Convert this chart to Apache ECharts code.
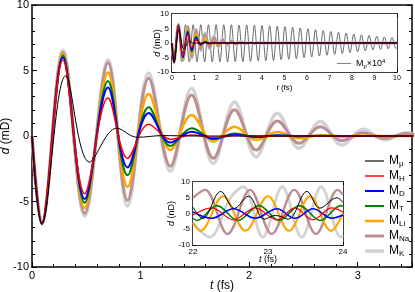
<!DOCTYPE html>
<html><head><meta charset="utf-8">
<script src="https://cdn.jsdelivr.net/npm/echarts@6/dist/echarts.min.js"></script>
<style>html,body{margin:0;padding:0;background:#fff}#c{width:415px;height:292px}</style>
</head><body><div id="c"></div>
<script>
// ---- main plot / top inset data (extrema) ----
const tExt = [0,0.09,0.285,0.485,0.70,0.88,1.075,1.275,1.47,1.67,1.865,2.065,2.26,2.46,2.655,2.855,3.05,3.25,3.445,3.65,3.85,4.2,5,10];
const dK  = [0,-6.7,6.55,-6.1,5.8,-5.35,4.8,-2.7,3.64,-2.1,2.6,-1.6,1.73,-0.94,1.1,-0.69,0.51,-0.3,0.25,-0.12,0.06,0,0,0];
const dNa = [0,-6.7,6.4,-5.9,5.6,-4.9,4.4,-2.3,3.13,-1.7,2.0,-1.07,1.15,-0.56,0.7,-0.36,0.25,-0.18,0.2,-0.08,0.04,0,0,0];
const dLi = [0,-6.7,6.3,-5.5,4.85,-3.9,3.2,-1.07,1.6,-0.43,0.7,-0.3,0.3,-0.18,0.08,-0.05,0.03,0,0,0,0,0,0,0];
const dT  = [0,-6.7,6.15,-5.1,4.2,-3.0,2.2,-0.76,0.59,-0.25,0.2,-0.1,0.05,-0.03,0.02,0,0,0,0,0,0,0,0,0];
const dD  = [0,-6.7,6.0,-4.8,3.7,-2.4,1.75,-0.5,0.33,-0.2,0.1,-0.05,0.03,0,0,0,0,0,0,0,0,0,0,0];
const dH  = [0,-6.7,5.8,-4.4,2.9,-1.7,0.9,-0.25,0.08,-0.1,0.04,-0.02,0,0,0,0,0,0,0,0,0,0,0,0];
const tMu = [0,0.09,0.31,0.53,0.78,0.97,1.2,1.5,2,3,4,10];
const dMu = [0,-6.7,4.6,-2.0,0.6,-0.1,0.03,0,0,0,0,0];
// M_p x 10^4 (top inset)
const tP = [0,0.09,0.26,0.43,0.60,0.77,0.94,1.11,1.28,1.45,1.62,1.79,1.96,2.13,2.30,2.47,2.64,2.81,2.98,3.15,3.32,3.49,3.66,3.83,4.00,4.17,4.34,4.51,4.68,4.85,5.02,5.19,5.36,5.53,5.70,5.87,6.04,6.21,6.38,6.55,6.72,6.89,7.06,7.23,7.40,7.57,7.74,7.91,8.08,8.25,8.42,8.59,8.76,8.93,9.10,9.27,9.44,9.61,9.78,9.95,10];
const dP = [0,-6.5,6.3,-6.5,6.3,-6.5,6.3,-6.5,6.3,-6.5,6.3,-6.5,6.3,-6.5,6.3,-6.5,6.3,-6.4,6.2,-6.4,6.2,-6.3,6.1,-6.2,6.0,-6.1,5.9,-6.0,5.8,-5.8,5.6,-5.6,5.4,-5.4,5.2,-5.1,4.9,-4.8,4.6,-4.5,4.3,-4.2,4.0,-3.9,3.7,-3.6,3.4,-3.3,3.1,-3.0,2.8,-2.7,2.6,-2.4,2.3,-2.2,2.1,-2.0,1.9,-1.8,-1.7];
// ---- bottom inset (22-24 fs, nD) ----
const tBMu = [22,22.13,22.37,22.55,22.74,22.95,23.1,23.27,23.52,23.69,23.92,24];
const bMu  = [2.0,-1.6,7.0,1.6,5.5,-1.8,-0.6,-1.8,7.0,1.7,5.0,3.5];
const tBH = [22,22.25,22.54,22.83,23.12,23.36,23.6,23.85,24];
const bH  = [-0.5,1.8,-2.0,1.8,-2.0,1.8,-2.0,1.8,0.5];
const tBD = [22,22.25,22.54,22.83,23.12,23.36,23.6,23.85,24];
const bD  = [0.5,-1.5,1.5,-1.5,1.5,-1.5,1.5,-1.5,-0.5];
const tBT = [22,22.05,22.32,22.6,22.88,23.15,23.42,23.7,23.97,24];
const bT  = [-1.5,-2.2,2.5,-2.2,2.5,-2.2,2.5,-2.2,2.5,2.4];
const tBLi = [22,22.1,22.4,22.7,23.0,23.28,23.56,23.84,24];
const bLi  = [-3,-5.5,5.5,-5.5,5.5,-5.5,5.5,-5.5,0];
const tBNa = [22,22.16,22.46,22.76,23.05,23.35,23.64,23.93,24];
const bNa  = [5,7.5,-6.5,7.5,-6.5,7.5,-6.5,7.5,6];
const tBK = [22,22.22,22.5,22.67,22.93,23.19,23.45,23.71,23.97,24];
const bK  = [-3,-7.5,5,8.5,-7.5,8.5,-7.5,8.5,-7.5,-7];

const keys   = ['μ','H','D','T','Li','Na','K'];
const colors = {'μ':'#000000','H':'#ff0000','D':'#0000ff','T':'#008000','Li':'#ffa500','Na':'#bc8f8f','K':'#d3d3d3'};
const widths = {'μ':1,'H':1.5,'D':2,'T':2,'Li':2.5,'Na':3,'K':3.5};
const mainT = {'μ':tMu,'H':tExt,'D':tExt,'T':tExt,'Li':tExt,'Na':tExt,'K':tExt};
const mainD = {'μ':dMu,'H':dH,'D':dD,'T':dT,'Li':dLi,'Na':dNa,'K':dK};
const botT  = {'μ':tBMu,'H':tBH,'D':tBD,'T':tBT,'Li':tBLi,'Na':tBNa,'K':tBK};
const botD  = {'μ':bMu,'H':bH,'D':bD,'T':bT,'Li':bLi,'Na':bNa,'K':bK};

const zip = (a,b)=>a.map((x,i)=>[x,b[i]]);
const FF = 'Liberation Sans';
const drawOrder = ['K','Na','Li','T','D','H','μ'];
const series = [];
function addSeries(gi, name, k, data, z){
  series.push({type:'line', name, xAxisIndex:gi*2, yAxisIndex:gi*2, data, smooth:0.36,
    symbol:'none', showSymbol:false, z, clip:true,
    lineStyle:{color:colors[k], width: gi===0?widths[k]:Math.max(1,widths[k]*0.8)},
    itemStyle:{color:colors[k]}, silent:true});
}
drawOrder.forEach((k,i)=>{
  addSeries(0, k, k, zip(mainT[k], mainD[k]), 2+i*0.01);
  addSeries(1, 'top_'+k, k, zip(mainT[k], mainD[k]), 5+i*0.01);
  addSeries(2, 'bot_'+k, k, zip(botT[k], botD[k]), 5+i*0.01);
});
series.push({type:'line', name:'p', xAxisIndex:2, yAxisIndex:2, data:zip(tP,dP), smooth:0.36,
  symbol:'none', z:4.5, lineStyle:{color:'#444', width:0.8}, itemStyle:{color:'#444'}, silent:true});

function xa(gi, min, max, interval, fs, nameStr, nameGap, split, tickLen){
  return [{
    gridIndex:gi, type:'value', min, max, interval, position:'bottom',
    name:nameStr, nameLocation:'middle', nameGap, nameMoveOverlap:false,
    nameTextStyle:{fontFamily:FF, fontSize:fs+1, color:'#000', rich:{i:{fontStyle:'italic',fontFamily:FF,fontSize:fs+1}}},
    axisLine:{show:true, onZero:false, lineStyle:{color:'#000', width:1.5}},
    axisTick:{show:true, inside:true, length:tickLen, lineStyle:{color:'#000',width:1}},
    minorTick:{show:true, splitNumber:split, length:tickLen*0.6, lineStyle:{color:'#000',width:1}},
    axisLabel:{fontFamily:FF, fontSize:fs, color:'#000', margin:3, showMaxLabel: max%interval===0},
    splitLine:{show:false}
  },{
    gridIndex:gi, type:'value', min, max, interval, position:'top',
    axisLine:{show:true, onZero:false, lineStyle:{color:'#000', width:1.5}},
    axisTick:{show:gi>0, inside:true, length:tickLen},
    minorTick:{show:gi>0, splitNumber:split, length:tickLen*0.6},
    axisLabel:{show:false}, splitLine:{show:false}
  }];
}
function ya(gi, fs, nameStr, nameGap, tickLen){
  return [{
    gridIndex:gi, type:'value', min:-10, max:10, interval:5, position:'left',
    name:nameStr, nameLocation:'middle', nameGap, nameRotate:90, nameMoveOverlap:false,
    nameTextStyle:{fontFamily:FF, fontSize:fs+1, color:'#000', rich:{i:{fontStyle:'italic',fontFamily:FF,fontSize:fs+1}}},
    axisLine:{show:true, onZero:false, lineStyle:{color:'#000', width:1.5}},
    axisTick:{show:true, inside:true, length:tickLen, lineStyle:{color:'#000',width:1}},
    minorTick:{show:true, splitNumber:5, length:tickLen*0.6, lineStyle:{color:'#000',width:1}},
    axisLabel:{fontFamily:FF, fontSize:fs, color:'#000', margin:3},
    splitLine:{show:false}
  },{
    gridIndex:gi, type:'value', min:-10, max:10, interval:5, position:'right',
    axisLine:{show:true, onZero:false, lineStyle:{color:'#000', width:1.5}},
    axisTick:{show:true, inside:true, length:tickLen, lineStyle:{color:'#000',width:1}},
    minorTick:{show:true, splitNumber:5, length:tickLen*0.6, lineStyle:{color:'#000',width:1}},
    axisLabel:{show:false}, splitLine:{show:false}
  }];
}
const icon = w => 'path://M0,0H20V' + w + 'H0Z';

const option = {
  animation:false,
  backgroundColor:'#fff',
  grid:[
    {left:32, top:5, width:380, height:262, outerBoundsMode:'none', containLabel:false},
    {left:172, top:14, width:225, height:58, show:true, backgroundColor:'#fff', borderWidth:0, z:3, outerBoundsMode:'none', containLabel:false},
    {left:193, top:182, width:150, height:63, show:true, backgroundColor:'#fff', borderWidth:0, z:3, outerBoundsMode:'none', containLabel:false}
  ],
  xAxis:[].concat(
    xa(0, 0, 3.5, 1, 11, '{i|t} (fs)', 13, 5, 5),
    xa(1, 0, 10, 1, 7, '{i|t} (fs)', 12, 5, 3),
    xa(2, 22, 24, 1, 8, '{i|t} (fs)', 10, 5, 3)
  ),
  yAxis:[].concat(
    ya(0, 11, '{i|d} (mD)', 20, 5),
    ya(1, 8, '{i|d} (mD)', 10, 3),
    ya(2, 8, '{i|d} (nD)', 17, 3)
  ),
  legend:[{
    data:keys.map(k=>({name:k, icon:icon(Math.max(1.2, widths[k]*1.05))})),
    orient:'vertical', left:360, top:150, itemWidth:19, itemHeight:10, itemGap:2,
    selectedMode:false,
    formatter: n=>'{m|M}{s|'+n+'}',
    textStyle:{color:'#000', rich:{m:{fontFamily:FF,fontSize:12,color:'#000'}, s:{fontFamily:FF,fontSize:8,color:'#000',padding:[6,0,0,0]}}}
  },{
    data:[{name:'p', icon:icon(1)}], orient:'horizontal', left:332, top:53, itemWidth:14, itemHeight:8, itemGap:2,
    selectedMode:false,
    formatter: ()=>'{m|M}{s|p}{m|×10}{u|4}',
    textStyle:{color:'#000', rich:{m:{fontFamily:FF,fontSize:9,color:'#000'}, s:{fontFamily:FF,fontSize:6,padding:[5,0,0,0]}, u:{fontFamily:FF,fontSize:6,padding:[0,0,5,0]}}}
  }],
  series
};
const chart = echarts.init(document.getElementById('c'), null, {renderer:'canvas'});
chart.setOption(option);
</script></body></html>
